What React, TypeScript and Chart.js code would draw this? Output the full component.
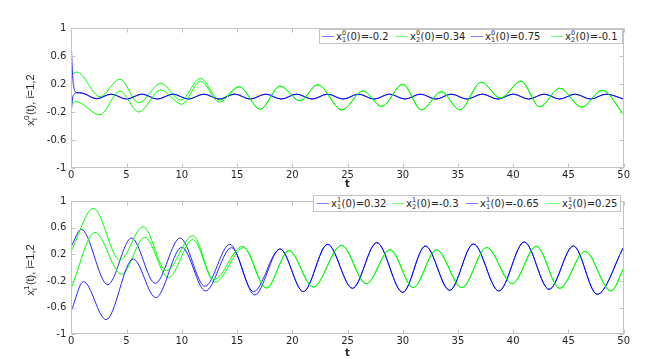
import React, { useEffect, useRef } from 'react';
import { Chart, registerables } from 'chart.js';

Chart.register(...registerables);

type P = [number, number];

// ---------- axis ticks ----------
const xTicks = [0, 5, 10, 15, 20, 25, 30, 35, 40, 45, 50];
const yTicks = [-1, -0.6, -0.2, 0.2, 0.6, 1];

// ---------- top panel (x^0) ----------
const topBlueHeadA: P[] = [[0, -0.2], [0.12, 0.0], [0.3, 0.06], [0.5, 0.075]];
const topBlueHeadB: P[] = [[0, 0.75], [0.12, 0.32], [0.3, 0.11], [0.5, 0.078]];
const topBlueTail: P[] = [
  [1.0, 0.07], [2.3, -0.01], [3.6, 0.055], [5.0, -0.015], [6.4, 0.055], [7.8, -0.015],
  [9.2, 0.055], [10.6, -0.015], [12.0, 0.055], [13.4, -0.015], [14.8, 0.055], [16.2, -0.015],
  [17.6, 0.055], [19.0, -0.015], [20.4, 0.055], [21.8, -0.015], [23.2, 0.055], [24.6, -0.015],
  [26.0, 0.055], [27.4, -0.015], [28.8, 0.055], [30.2, -0.015], [31.6, 0.055], [33.0, -0.015],
  [34.4, 0.055], [35.8, -0.015], [37.2, 0.055], [38.6, -0.015], [40.0, 0.055], [41.4, -0.015],
  [42.8, 0.055], [44.2, -0.015], [45.6, 0.055], [47.0, -0.015], [48.4, 0.055], [50, -0.015],
];
const topGreenHeadA: P[] = [
  [0, 0.34], [0.5, 0.37], [2.6, 0.02], [4.4, 0.27], [6.1, -0.07], [8.1, 0.21],
  [9.9, -0.03], [11.7, 0.28], [13.4, -0.03],
];
const topGreenHeadB: P[] = [
  [0, -0.1], [0.4, -0.05], [2.6, -0.24], [4.4, 0.1], [6.1, -0.2], [8.1, 0.115],
  [10.0, -0.09], [11.7, 0.24], [13.4, -0.06],
];
const topGreenTail: P[] = [
  [15.2, 0.16], [17.1, -0.16], [18.9, 0.17], [20.7, -0.04], [22.3, 0.19], [24.5, -0.17],
  [26.4, 0.1], [28.1, -0.12], [30.0, 0.195], [31.7, -0.17], [33.5, 0.09], [35.15, -0.17],
  [37.1, 0.225], [38.85, 0.0], [40.7, 0.24], [42.4, -0.125], [44.2, 0.14], [46.2, -0.13],
  [48.05, 0.11], [50, -0.235],
];
const topLegendSup = ['0', '0', '0', '0'];
const topLegendSub = ['1', '2', '1', '2'];
const topLegendValues = ['-0.2', '0.34', '0.75', '-0.1'];

// ---------- bottom panel (x^1) ----------
const botBlueHeadA: P[] = [
  [0, 0.32], [0.9, 0.575], [3.3, -0.255], [5.45, 0.445], [7.6, -0.235], [9.85, 0.445],
  [12.1, -0.28], [14.35, 0.35], [16.5, -0.36],
];
const botBlueHeadB: P[] = [
  [0, -0.65], [1.1, -0.21], [3.15, -0.78], [5.6, 0.13], [7.65, -0.45], [10.0, 0.305],
  [12.15, -0.35], [14.5, 0.3], [16.6, -0.41],
];
const botBlueTail: P[] = [
  [18.9, 0.28], [21.0, -0.36], [23.2, 0.35], [25.45, -0.31], [27.65, 0.375], [30.0, -0.37],
  [32.05, 0.325], [34.25, -0.34], [36.4, 0.355], [38.7, -0.35], [41.0, 0.385], [43.25, -0.325],
  [45.45, 0.325], [47.6, -0.4], [50, 0.31],
];
const botGreenHeadA: P[] = [
  [0, -0.3], [2.15, 0.53], [4.55, -0.1], [6.65, 0.455], [8.8, -0.15], [11.0, 0.42],
  [13.0, -0.22], [15.6, 0.3],
];
const botGreenHeadB: P[] = [
  [0, 0.25], [2.0, 0.89], [4.4, 0.115], [6.5, 0.615], [8.6, -0.045], [11.0, 0.48],
  [12.9, -0.18], [15.5, 0.32],
];
const botGreenTail: P[] = [
  [17.65, -0.305], [19.7, 0.255], [21.9, -0.29], [24.45, 0.335], [26.7, -0.24], [28.85, 0.27],
  [30.95, -0.3], [33.05, 0.268], [35.35, -0.3], [37.6, 0.302], [39.9, -0.24], [42.1, 0.32],
  [44.2, -0.31], [46.5, 0.243], [48.85, -0.35], [50, -0.01],
];
const botLegendSup = ['1', '1', '1', '1'];
const botLegendSub = ['1', '2', '1', '2'];
const botLegendValues = ['0.32', '-0.3', '-0.65', '0.25'];

// ---------- styles ----------
const BLUE = 'rgba(0,0,255,0.85)';
const GREEN = '#00ff00';
const SERIES_COLORS = [BLUE, GREEN, BLUE, GREEN];
const FONT = '"DejaVu Sans", sans-serif';
const FRAME = '#c4c4c4';
const TEXT = '#262626';

const framePlugin = {
  id: 'frame',
  afterDraw(chart: any) {
    const { ctx, chartArea: a, scales } = chart;
    ctx.save();
    ctx.strokeStyle = FRAME;
    ctx.lineWidth = 1;
    const L = Math.round(a.left) + 0.5, R = Math.round(a.right) - 0.5;
    const T = Math.round(a.top) + 0.5, B = Math.round(a.bottom) - 0.5;
    ctx.strokeRect(L, T, R - L, B - T);
    ctx.beginPath();
    const tl = 4;
    for (const v of xTicks) {
      const px = Math.round(scales.x.getPixelForValue(v)) + 0.5;
      ctx.moveTo(px, B); ctx.lineTo(px, B - tl);
      ctx.moveTo(px, T); ctx.lineTo(px, T + tl);
    }
    for (const v of yTicks) {
      const py = Math.round(scales.y.getPixelForValue(v)) + 0.5;
      ctx.moveTo(L, py); ctx.lineTo(L + tl, py);
      ctx.moveTo(R, py); ctx.lineTo(R - tl, py);
    }
    ctx.stroke();
    ctx.restore();
  },
};

function Panel(props: { series: P[][]; top: number; height: number; padTop: number; xAxisH: number }) {
  const ref = useRef<HTMLCanvasElement>(null);
  useEffect(() => {
    const chart = new Chart(ref.current as HTMLCanvasElement, {
      type: 'line',
      data: {
        datasets: props.series.map((s, i) => ({
          data: s.map(([t, y]) => ({ x: t, y })),
          borderColor: SERIES_COLORS[i],
          backgroundColor: SERIES_COLORS[i],
          borderWidth: 1,
          pointRadius: 0,
          fill: false,
          cubicInterpolationMode: 'monotone' as const,
          order: 3 - i,
        })),
      },
      options: {
        animation: false,
        responsive: false,
        layout: { padding: { left: 0, right: 23.3, top: props.padTop, bottom: 0 } },
        plugins: { legend: { display: false }, tooltip: { enabled: false } },
        scales: {
          x: {
            type: 'linear',
            min: 0,
            max: 50,
            afterBuildTicks: (s: any) => { s.ticks = xTicks.map((v) => ({ value: v })); },
            afterFit: (s: any) => { s.height = props.xAxisH; },
            ticks: {
              autoSkip: false, maxRotation: 0, padding: 1, color: TEXT,
              font: { family: FONT, size: 10 },
              callback: (v: any) => String(v),
            },
            grid: { display: false, drawTicks: false },
            border: { display: false },
            title: {
              display: true, text: 't', color: TEXT, padding: { top: 0, bottom: 0 },
              font: { family: FONT, size: 10, weight: 'bold' },
            },
          },
          y: {
            type: 'linear',
            min: -1,
            max: 1,
            afterBuildTicks: (s: any) => { s.ticks = yTicks.map((v) => ({ value: v })); },
            afterFit: (s: any) => { s.width = 71.3; },
            ticks: {
              autoSkip: false, padding: 5, color: TEXT,
              font: { family: FONT, size: 10 },
              callback: (v: any) => String(v),
            },
            grid: { display: false, drawTicks: false },
            border: { display: false },
          },
        },
      },
      plugins: [framePlugin],
    } as any);
    return () => chart.destroy();
  }, []);
  return (
    <canvas
      ref={ref}
      width={647}
      height={props.height}
      style={{ position: 'absolute', left: 0, top: props.top, width: 647, height: props.height }}
    />
  );
}

function Scr(props: { sup: string; sub: string; size: number }) {
  return (
    <span
      style={{
        display: 'inline-flex', flexDirection: 'column', fontSize: props.size,
        lineHeight: `${props.size}px`, verticalAlign: 'middle', margin: '0 0.5px 0 0',
      }}
    >
      <span>{props.sup}</span>
      <span>{props.sub}</span>
    </span>
  );
}

function Legend(props: {
  left: number; top: number; width: number; height: number;
  entryLefts: number[]; sup: string[]; sub: string[]; values: string[];
}) {
  return (
    <div
      style={{
        position: 'absolute', left: props.left, top: props.top, width: props.width,
        height: props.height, boxSizing: 'border-box', border: `1px solid ${FRAME}`,
        background: '#fff',
      }}
    >
      {props.values.map((v, i) => (
        <div
          key={i}
          style={{
            position: 'absolute', left: props.entryLefts[i] - props.left, top: 0, height: '100%',
            display: 'flex', alignItems: 'center', whiteSpace: 'nowrap',
            fontFamily: FONT, fontSize: 10, color: TEXT,
          }}
        >
          <span style={{ display: 'inline-block', width: 12, height: 1, background: SERIES_COLORS[i], marginRight: 2, opacity: 0.6 }} />
          <span>
            x<Scr sup={props.sup[i]} sub={props.sub[i]} size={6.5} />(0)={v}
          </span>
        </div>
      ))}
    </div>
  );
}

function YTitle(props: { cx: number; cy: number; sup: string }) {
  return (
    <div
      style={{
        position: 'absolute', left: props.cx, top: props.cy, whiteSpace: 'nowrap',
        transform: 'translate(-50%, -50%) rotate(-90deg)', fontFamily: '"Liberation Sans", Arial, sans-serif',
        fontSize: 11, color: TEXT,
      }}
    >
      x<Scr sup={props.sup} sub="i" size={8} />(t), i=1,2
    </div>
  );
}

export default function App() {
  const topSeries = [
    [...topBlueHeadA, ...topBlueTail],
    [...topGreenHeadA, ...topGreenTail],
    [...topBlueHeadB, ...topBlueTail],
    [...topGreenHeadB, ...topGreenTail],
  ];
  const botSeries = [
    [...botBlueHeadA, ...botBlueTail],
    [...botGreenHeadA, ...botGreenTail],
    [...botBlueHeadB, ...botBlueTail],
    [...botGreenHeadB, ...botGreenTail],
  ];
  return (
    <div style={{ position: 'fixed', left: 0, top: 0, width: 647, height: 359, background: '#fff', overflow: 'hidden' }}>
      <Panel series={topSeries} top={0} height={190} padTop={28} xAxisH={22} />
      <Panel series={botSeries} top={190} height={169} padTop={4.3} xAxisH={24.7} />
      <Legend left={319} top={29} width={304} height={15} entryLefts={[321, 395, 470, 550]}
        sup={topLegendSup} sub={topLegendSub} values={topLegendValues} />
      <Legend left={313} top={195} width={308} height={17} entryLefts={[316, 391, 465, 547]}
        sup={botLegendSup} sub={botLegendSub} values={botLegendValues} />
      <YTitle cx={31} cy={100} sup="0" />
      <YTitle cx={31} cy={270} sup="1" />
    </div>
  );
}
